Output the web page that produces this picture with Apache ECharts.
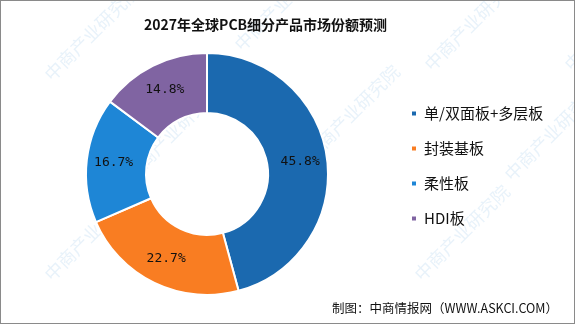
<!DOCTYPE html>
<html><head><meta charset="utf-8">
<script src="https://cdn.jsdelivr.net/npm/echarts@6/dist/echarts.min.js"></script>
<style>html,body{margin:0;padding:0;background:#fff}#c{width:573px;height:322px;border:1px solid #8a8a8a}</style>
</head><body><div id="c"></div>
<script>
const categories = ['单/双面板+多层板', '封装基板', '柔性板', 'HDI板'];
const values = [45.8, 22.7, 16.7, 14.8];
const colors = ['#1B69AF', '#F97D22', '#1E86D6', '#8064A2'];
const titleText = '2027年全球PCB细分产品市场份额预测';
const sourceText = '制图：中商情报网（WWW.ASKCI.COM）';

const chart = echarts.init(document.getElementById('c'));
const wm = [];
const wmPos = [[40,70],[230,40],[420,60],[120,170],[300,150],[500,170],[40,270],[220,270],[410,270],[560,60]];
wmPos.forEach(p => wm.push({
  type: 'text', x: p[0], y: p[1], rotation: Math.PI/4, z: -10,
  style: { text: '中商产业研究院', fill: 'rgba(150,195,230,0.22)', font: '18px "Noto Sans CJK SC"' }
}));
wm.push({ type: 'text', right: 16, bottom: 8, z: 10,
  style: { text: sourceText, fill: '#111', font: '12.5px "Noto Sans CJK SC"' } });

chart.setOption({
  animation: false,
  color: colors,
  title: { text: titleText, left: 138, top: 12,
    textStyle: { fontSize: 14, fontWeight: 'bold', color: '#111', fontFamily: '"Noto Sans CJK SC"' } },
  legend: {
    orient: 'vertical', left: 404, top: 100, itemWidth: 6, itemHeight: 6, itemGap: 20,
    icon: 'rect', data: categories,
    textStyle: { fontSize: 15, color: '#111', fontFamily: '"Noto Sans CJK SC"', padding: [0,0,0,2] }
  },
  graphic: wm,
  series: [{
    type: 'pie', center: [206, 173], radius: [61, 121], startAngle: 90, clockwise: true,
    itemStyle: { borderColor: '#fff', borderWidth: 2 },
    label: { show: true, position: 'inside', formatter: p => p.value.toFixed(1) + '%',
      color: '#111', fontSize: 13, fontFamily: '"DejaVu Sans Mono", monospace' },
    labelLine: { show: false },
    data: categories.map((c, i) => ({ name: c, value: values[i] }))
  }]
});
</script></body></html>
